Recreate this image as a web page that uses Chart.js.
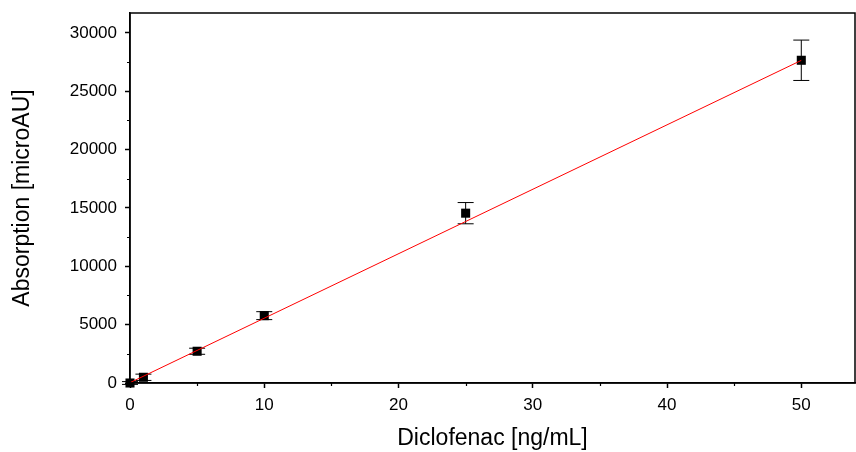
<!DOCTYPE html>
<html>
<head>
<meta charset="utf-8">
<script src="https://cdn.jsdelivr.net/npm/chart.js@4"></script>
<style>
html,body{margin:0;padding:0;background:#fff;}
#wrap{width:856px;height:452px;}
canvas{display:block;}
</style>
</head>
<body>
<div id="wrap"><canvas id="c" width="856" height="452"></canvas></div>
<script>
// Data
const concentrations = [0, 1, 5, 10, 25, 50];
const absorption = [0, 490, 2720, 5770, 14550, 27650];
const errors = [120, 270, 260, 340, 910, 1730];
const fitX = [0, 50];
const fitY = [30, 27640];
const xMajorTicks = [0, 10, 20, 30, 40, 50];
const xMinorTicks = [5, 15, 25, 35, 45];
const yMajorTicks = [0, 5000, 10000, 15000, 20000, 25000, 30000];
const yMinorTicks = [2500, 7500, 12500, 17500, 22500, 27500];

const FONT = "'Liberation Sans', Arial, sans-serif";

const extras = {
  id: 'extras',
  beforeDatasetsDraw(chart) {
    const ctx = chart.ctx;
    const xs = chart.scales.x, ys = chart.scales.y;
    ctx.save();
    ctx.strokeStyle = '#000';
    ctx.lineWidth = 1;
    for (let i = 0; i < concentrations.length; i++) {
      const px = xs.getPixelForValue(concentrations[i]);
      const top = ys.getPixelForValue(absorption[i] + errors[i]);
      const bot = ys.getPixelForValue(absorption[i] - errors[i]);
      const cap = 8;
      ctx.beginPath();
      ctx.moveTo(px, top); ctx.lineTo(px, bot);
      ctx.moveTo(px - cap, top); ctx.lineTo(px + cap, top);
      ctx.moveTo(px - cap, bot); ctx.lineTo(px + cap, bot);
      ctx.stroke();
    }
    ctx.restore();
  },
  afterDraw(chart) {
    const ctx = chart.ctx;
    const a = chart.chartArea;
    const xs = chart.scales.x, ys = chart.scales.y;
    ctx.save();
    ctx.strokeStyle = '#000';
    ctx.lineWidth = 1.5;
    ctx.strokeRect(a.left, a.top, a.right - a.left, a.bottom - a.top);
    ctx.lineWidth = 1.2;
    ctx.beginPath();
    xMinorTicks.forEach(v => {
      const p = Math.round(xs.getPixelForValue(v)) + 0.5;
      ctx.moveTo(p, a.bottom); ctx.lineTo(p, a.bottom + 3);
    });
    yMinorTicks.forEach(v => {
      const p = Math.round(ys.getPixelForValue(v)) + 0.5;
      ctx.moveTo(a.left, p); ctx.lineTo(a.left - 3, p);
    });
    ctx.stroke();
    ctx.restore();
  }
};

new Chart(document.getElementById('c'), {
  type: 'scatter',
  data: {
    datasets: [
      {
        type: 'line',
        data: fitX.map((x, i) => ({x: x, y: fitY[i]})),
        borderColor: '#ff0000',
        borderWidth: 1,
        pointRadius: 0,
        fill: false,
        order: 0
      },
      {
        data: concentrations.map((x, i) => ({x: x, y: absorption[i]})),
        pointStyle: 'rect',
        pointRadius: 6.4,
        backgroundColor: '#000',
        borderColor: '#000',
        borderWidth: 0,
        order: 1,
        clip: false
      }
    ]
  },
  options: {
    responsive: false,
    animation: false,
    events: [],
    layout: {autoPadding: false, padding: {top: 13, right: 1, left: 0, bottom: 0}},
    plugins: {legend: {display: false}, tooltip: {enabled: false}},
    scales: {
      x: {
        type: 'linear',
        min: 0, max: 54,
        afterFit(s) { s.height = 69; s.paddingLeft = 0; s.paddingRight = 0; },
        afterBuildTicks(s) { s.ticks = xMajorTicks.map(v => ({value: v})); },
        grid: {drawOnChartArea: false, tickLength: 5, color: '#000', tickWidth: 1.5, tickColor: '#000'},
        border: {display: true, color: '#000', width: 1.5},
        ticks: {color: '#000', font: {family: FONT, size: 17}, padding: 7, maxRotation: 0},
        title: {display: true, text: 'Diclofenac [ng/mL]', color: '#000',
          font: {family: FONT, size: 23, lineHeight: 1.1}, padding: {top: 0, bottom: 1}}
      },
      y: {
        type: 'linear',
        min: 0, max: 31700,
        afterFit(s) { s.width = 130; s.paddingTop = 0; s.paddingBottom = 0; },
        afterBuildTicks(s) { s.ticks = yMajorTicks.map(v => ({value: v})); },
        grid: {drawOnChartArea: false, tickLength: 5, color: '#000', tickWidth: 1.5, tickColor: '#000'},
        border: {display: true, color: '#000', width: 1.5},
        ticks: {color: '#000', font: {family: FONT, size: 17}, padding: 8, callback: v => String(v)},
        title: {display: true, text: 'Absorption [microAU]', color: '#000',
          font: {family: FONT, size: 23, lineHeight: 1.1}, padding: {top: 10, bottom: 0}}
      }
    }
  },
  plugins: [extras]
});
</script>
</body>
</html>
